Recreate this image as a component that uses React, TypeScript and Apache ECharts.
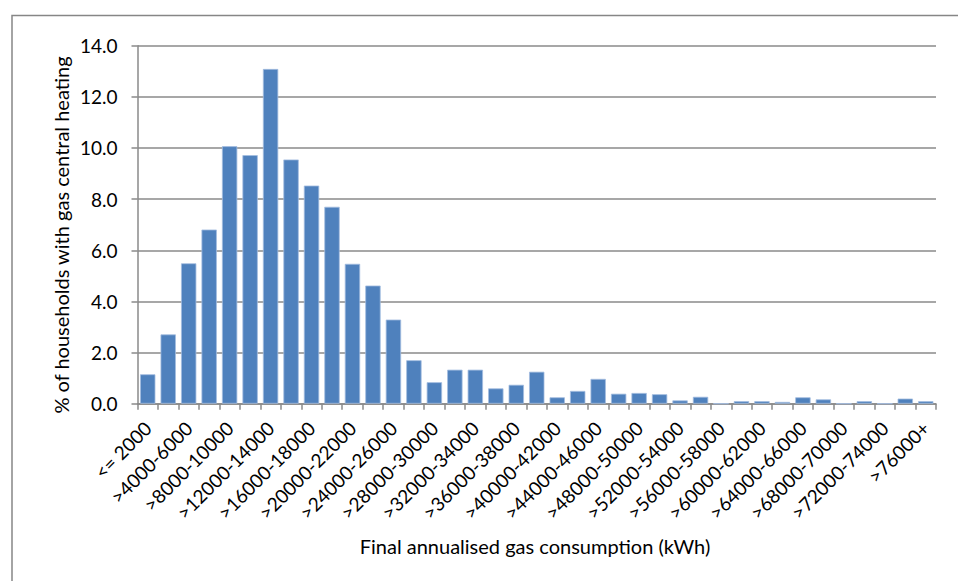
import React, { useEffect, useRef } from "react";
import * as echarts from "echarts";

const categories: string[] = [
  "<= 2000", ">2000-4000", ">4000-6000", ">6000-8000", ">8000-10000",
  ">10000-12000", ">12000-14000", ">14000-16000", ">16000-18000", ">18000-20000",
  ">20000-22000", ">22000-24000", ">24000-26000", ">26000-28000", ">28000-30000",
  ">30000-32000", ">32000-34000", ">34000-36000", ">36000-38000", ">38000-40000",
  ">40000-42000", ">42000-44000", ">44000-46000", ">46000-48000", ">48000-50000",
  ">50000-52000", ">52000-54000", ">54000-56000", ">56000-58000", ">58000-60000",
  ">60000-62000", ">62000-64000", ">64000-66000", ">66000-68000", ">68000-70000",
  ">70000-72000", ">72000-74000", ">74000-76000", ">76000+",
];

const percentHouseholds: number[] = [
  1.15, 2.71, 5.49, 6.81, 10.07, 9.72, 13.09, 9.55, 8.53, 7.7,
  5.47, 4.62, 3.29, 1.7, 0.84, 1.33, 1.33, 0.6, 0.74, 1.25,
  0.25, 0.5, 0.97, 0.39, 0.42, 0.37, 0.13, 0.27, 0, 0.1,
  0.1, 0.07, 0.25, 0.17, 0, 0.1, 0, 0.2, 0.1,
];

const yTitle = "% of households with gas central heating";
const xTitle = "Final annualised gas consumption (kWh)";

const FONT = "Lato";
const GRAY = "#8a8a8a";

export default function App() {
  const ref = useRef<HTMLDivElement>(null);
  useEffect(() => {
    if (!ref.current) return;
    const chart = echarts.init(ref.current, null, { renderer: "svg" });
    chart.setOption({
      animation: false,
      backgroundColor: "#ffffff",
      textStyle: { fontFamily: FONT },
      grid: { left: 137.5, right: 22, top: 45.7, bottom: 177.3, containLabel: false },
      graphic: [
        {
          type: "rect",
          shape: { x: 12, y: 15.5, width: 1000, height: 1000 },
          style: { fill: "none", stroke: "#868686", lineWidth: 1.5 },
          silent: true,
        },
        {
          type: "text",
          x: 61,
          y: 235,
          rotation: Math.PI / 2,
          style: {
            text: yTitle,
            font: `20px ${FONT}`,
            fill: "#000",
            align: "center",
            verticalAlign: "middle",
          },
        },
        {
          type: "text",
          x: 535,
          y: 546,
          style: {
            text: xTitle,
            font: `20px ${FONT}`,
            fill: "#000",
            align: "center",
            verticalAlign: "middle",
          },
        },
      ],
      xAxis: {
        type: "category",
        data: categories,
        boundaryGap: true,
        axisLine: { show: true, lineStyle: { color: GRAY, width: 1.5 } },
        axisTick: { show: true, interval: 0, length: 6, alignWithLabel: false, lineStyle: { color: GRAY, width: 1.5 } },
        axisLabel: {
          interval: 1,
          rotate: 45,
          margin: 21,
          color: "#000",
          fontFamily: FONT,
          fontSize: 19,
        },
        splitLine: { show: false },
      },
      yAxis: {
        type: "value",
        min: 0,
        max: 14,
        interval: 2,
        axisLine: { show: true, lineStyle: { color: GRAY, width: 1.5 } },
        axisTick: { show: true, length: 6, lineStyle: { color: GRAY, width: 1.5 } },
        axisLabel: {
          margin: 20,
          color: "#000",
          fontFamily: FONT,
          fontSize: 19,
          formatter: (v: number) => v.toFixed(1),
        },
        splitLine: { show: true, lineStyle: { color: GRAY, width: 1.5 } },
      },
      series: [
        {
          type: "bar",
          data: percentHouseholds,
          barCategoryGap: "25%",
          itemStyle: { color: "#4F81BD", borderColor: "#a3bde0", borderWidth: 0.8 },
        },
      ],
    });
    return () => chart.dispose();
  }, []);
  return (
    <div
      ref={ref}
      style={{ position: "fixed", left: 0, top: 0, width: 958, height: 581 }}
    />
  );
}
